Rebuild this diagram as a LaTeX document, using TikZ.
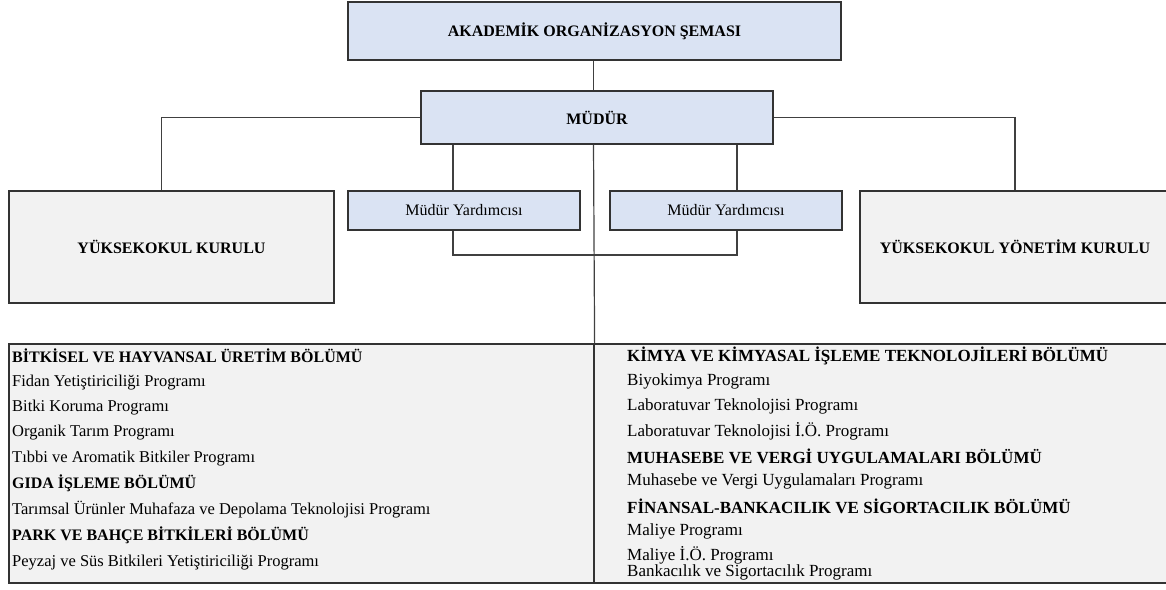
\documentclass[tikz,border=0pt]{standalone}
\usepackage{fontspec}
\setmainfont{Liberation Serif}
\definecolor{boxblue}{HTML}{DAE3F3}
\definecolor{boxgrey}{HTML}{F2F2F2}
\definecolor{edge}{HTML}{333333}
\definecolor{wire}{HTML}{404040}
\tikzset{
  box/.style={draw=edge, line width=1.2pt, inner sep=0pt, font=\fontsize{16}{19}\selectfont},
  bluebox/.style={box, fill=boxblue},
  greybox/.style={box, fill=boxgrey},
  wireline/.style={draw=wire, line width=1.2pt},
  lhead/.style={anchor=west, inner sep=0pt, font=\fontsize{16}{19}\selectfont\bfseries},
  ltext/.style={anchor=west, inner sep=0pt, font=\fontsize{16.5}{19}\selectfont},
  rhead/.style={anchor=west, inner sep=0pt, font=\fontsize{17}{20}\selectfont\bfseries},
  rtext/.style={anchor=west, inner sep=0pt, font=\fontsize{17}{20}\selectfont},
}
\begin{document}
\begin{tikzpicture}[x=1pt,y=-1pt]
\useasboundingbox (0,0) rectangle (1166,589);
% boxes
\node[bluebox, minimum width=493pt, minimum height=58pt] (title) at (594.5,31) {\bfseries AKADEMİK ORGANİZASYON ŞEMASI};
\node[bluebox, minimum width=352pt, minimum height=53pt] (mudur) at (597,117.5) {\bfseries MÜDÜR};
\node[bluebox, minimum width=232pt, minimum height=39pt] (my1) at (464,210.5) {Müdür Yardımcısı};
\node[bluebox, minimum width=232pt, minimum height=39pt] (my2) at (726,210.5) {Müdür Yardımcısı};
\node[greybox, minimum width=325pt, minimum height=112pt] (yk) at (171.5,247) {\bfseries YÜKSEKOKUL KURULU};
\node[greybox, minimum width=310pt, minimum height=112pt] (yyk) at (1015,247) {\bfseries YÜKSEKOKUL YÖNETİM KURULU};
\node[greybox, minimum width=585pt, minimum height=239pt] (lp) at (301.5,463.5) {};
\node[greybox, minimum width=576pt, minimum height=239pt] (rp) at (882,463.5) {};
% junction coordinates
\coordinate (cx) at (593.5,0);
\coordinate (jl) at (161.5,0);
\coordinate (a1) at (453,0);
\coordinate (a2) at (737,0);
\coordinate (hub) at (593.5,255);
% connectors
\draw[wireline] (title.south -| cx) -- (mudur.north -| cx);
\draw[wireline] (mudur.west) -| (yk.north -| jl);
\draw[wireline] (mudur.east) -| (yyk.north);
\draw[wireline] (mudur.south -| a1) -- (my1.north -| a1);
\draw[wireline] (mudur.south -| a2) -- (my2.north -| a2);
\draw[wireline] (my1.south -| a1) |- (hub);
\draw[wireline] (my2.south -| a2) |- (hub);
\draw[wireline] (mudur.south -| cx) -- (lp.north east);
% left panel text
\node[lhead] (l1) at (12,356) {BİTKİSEL VE HAYVANSAL ÜRETİM BÖLÜMÜ};
\node[ltext] (l2) at (12,383) {Fidan Yetiştiriciliği Programı};
\node[ltext] (l3) at (12,408) {Bitki Koruma Programı};
\node[ltext] (l4) at (12,433) {Organik Tarım Programı};
\node[ltext] (l5) at (12,459) {Tıbbi ve Aromatik Bitkiler Programı};
\node[lhead] (l6) at (12,483) {GIDA İŞLEME BÖLÜMÜ};
\node[ltext] (l7) at (12,510) {Tarımsal Ürünler Muhafaza ve Depolama Teknolojisi Programı};
\node[lhead] (l8) at (12,535) {PARK VE BAHÇE BİTKİLERİ BÖLÜMÜ};
\node[ltext] (l9) at (12,563) {Peyzaj ve Süs Bitkileri Yetiştiriciliği Programı};
% right panel text
\node[rhead] (r1) at (627,356) {KİMYA VE KİMYASAL İŞLEME TEKNOLOJİLERİ BÖLÜMÜ};
\node[rtext] (r2) at (627,381) {Biyokimya Programı};
\node[rtext] (r3) at (627,406) {Laboratuvar Teknolojisi Programı};
\node[rtext] (r4) at (627,431) {Laboratuvar Teknolojisi İ.Ö. Programı};
\node[rhead] (r5) at (627,456) {MUHASEBE VE VERGİ UYGULAMALARI BÖLÜMÜ};
\node[rtext] (r6) at (627,481) {Muhasebe ve Vergi Uygulamaları Programı};
\node[rhead] (r7) at (627,506) {FİNANSAL-BANKACILIK VE SİGORTACILIK BÖLÜMÜ};
\node[rtext] (r8) at (627,531) {Maliye Programı};
\node[rtext] (r9) at (627,555) {Maliye İ.Ö. Programı};
\node[rtext] (r10) at (627,572) {Bankacılık ve Sigortacılık Programı};
\end{tikzpicture}
\end{document}
